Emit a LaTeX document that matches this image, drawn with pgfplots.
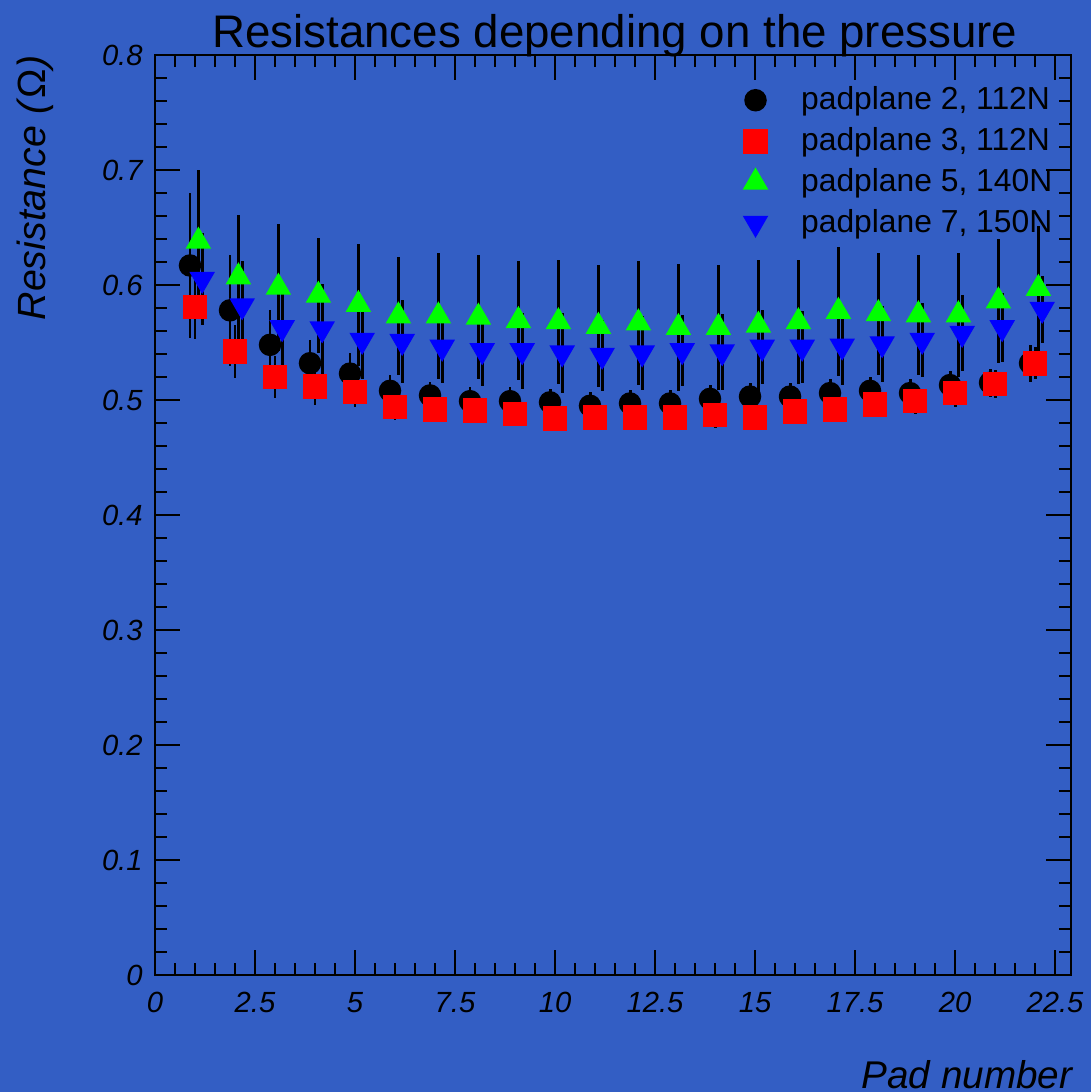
\documentclass[border=0pt]{standalone}
\usepackage{fontspec}
\setmainfont{Liberation Sans}
\usepackage{pgfplots}
\pgfplotsset{compat=1.18}
\usepackage{pgfplotstable}
\definecolor{rootbg}{RGB}{51,94,196}

% columns: pad position, resistance, error
\pgfplotstableread{
x y ey
0.875 0.617 0.063
1.875 0.578 0.048
2.875 0.548 0.030
3.875 0.532 0.020
4.875 0.523 0.018
5.875 0.508 0.014
6.875 0.504 0.012
7.875 0.499 0.012
8.875 0.499 0.012
9.875 0.498 0.012
10.875 0.495 0.012
11.875 0.497 0.012
12.875 0.497 0.012
13.875 0.501 0.012
14.875 0.503 0.012
15.875 0.503 0.012
16.875 0.506 0.012
17.875 0.508 0.012
18.875 0.506 0.012
19.875 0.513 0.012
20.875 0.515 0.012
21.875 0.532 0.016
}\padtwo
\pgfplotstableread{
x y ey
1 0.581 0.028
2 0.542 0.023
3 0.520 0.018
4 0.512 0.016
5 0.507 0.013
6 0.494 0.011
7 0.492 0.011
8 0.491 0.011
9 0.488 0.011
10 0.484 0.011
11 0.485 0.011
12 0.485 0.011
13 0.485 0.011
14 0.487 0.011
15 0.485 0.011
16 0.490 0.011
17 0.492 0.011
18 0.496 0.011
19 0.499 0.011
20 0.506 0.012
21 0.514 0.012
22 0.532 0.014
}\padthree
\pgfplotstableread{
x y ey
1.085 0.638 0.062
2.085 0.607 0.054
3.085 0.598 0.055
4.085 0.591 0.050
5.085 0.583 0.053
6.085 0.573 0.051
7.085 0.573 0.055
8.085 0.572 0.054
9.085 0.569 0.052
10.085 0.568 0.054
11.085 0.564 0.053
12.085 0.567 0.054
13.085 0.563 0.055
14.085 0.563 0.054
15.085 0.565 0.057
16.085 0.568 0.054
17.085 0.577 0.056
18.085 0.575 0.053
19.085 0.574 0.052
20.085 0.574 0.054
21.085 0.586 0.054
22.085 0.597 0.054
}\padfive
\pgfplotstableread{
x y ey
1.18 0.605 0.040
2.18 0.582 0.039
3.18 0.563 0.037
4.18 0.562 0.039
5.18 0.552 0.034
6.18 0.551 0.036
7.18 0.546 0.031
8.18 0.543 0.031
9.18 0.543 0.033
10.18 0.541 0.035
11.18 0.539 0.031
12.18 0.541 0.032
13.18 0.543 0.031
14.18 0.542 0.033
15.18 0.546 0.032
16.18 0.546 0.031
17.18 0.547 0.034
18.18 0.549 0.033
19.18 0.552 0.032
20.18 0.558 0.033
21.18 0.563 0.030
22.18 0.579 0.029
}\padseven

\begin{document}
\begin{tikzpicture}
\fill[rootbg] (-1.55,-1.17) rectangle (9.36,9.75);
\begin{axis}[
  scale only axis, width=9.16cm, height=9.2cm,
  xmin=0, xmax=22.9, ymin=0, ymax=0.8,
  xtick={0,2.5,5,7.5,10,12.5,15,17.5,20,22.5},
  xticklabels={0,2.5,5,7.5,10,12.5,15,17.5,20,22.5},
  ytick={0,0.1,0.2,0.3,0.4,0.5,0.6,0.7,0.8},
  yticklabels={0,0.1,0.2,0.3,0.4,0.5,0.6,0.7,0.8},
  minor x tick num=4, minor y tick num=4,
  tick align=inside, major tick length=0.25cm, minor tick length=0.12cm,
  tick style={black, line width=0.5pt},
  axis line style={black, line width=0.7pt},
  ticklabel style={font=\fontsize{8.3}{10}\selectfont\itshape},
  xticklabel style={yshift=-0.05cm},
  title={Resistances depending on the pressure},
  title style={font=\fontsize{13}{15}\selectfont, at={(axis description cs:0.502,1)}, anchor=base, yshift=-0.131cm},
  xlabel={Pad number},
  xlabel style={font=\fontsize{11}{13}\selectfont\itshape, inner sep=0pt, at={(axis description cs:1.002,-0.123)}, anchor=base east},
  ylabel={Resistance (\textup{Ω})},
  ylabel style={font=\fontsize{11.2}{13}\selectfont\itshape, inner sep=0pt, at={(axis description cs:-0.120,1)}, anchor=base east},
  legend style={draw=none, fill=none, inner sep=0pt, at={(0.988,0.967)}, anchor=north east,
    font=\fontsize{9.05}{11}\selectfont, nodes={inner ysep=0pt}, row sep=3.6pt,
    /tikz/every odd column/.append style={column sep=0.27cm}},
  legend cell align=left,
  error bars/error bar style={black, line width=0.85pt},
]
\addplot[only marks, mark=*, mark size=3.0pt, black,
  error bars/.cd, y dir=both, y explicit, error mark=none]
  table[x=x, y=y, y error=ey] {\padtwo};
\addlegendentry{padplane 2, 112N}
\addplot[only marks, mark=square*, mark size=3.3pt, red, mark options={fill=red, draw=red},
  error bars/.cd, y dir=both, y explicit, error mark=none]
  table[x=x, y=y, y error=ey] {\padthree};
\addlegendentry{padplane 3, 112N}
\addplot[only marks, mark=triangle*, mark size=3.8pt, green, mark options={fill=green, draw=green},
  error bars/.cd, y dir=both, y explicit, error mark=none]
  table[x=x, y=y, y error=ey] {\padfive};
\addlegendentry{padplane 5, 140N}
\addplot[only marks, mark=triangle*, mark size=3.8pt, blue, mark options={fill=blue, draw=blue, rotate=180},
  error bars/.cd, y dir=both, y explicit, error mark=none]
  table[x=x, y=y, y error=ey] {\padseven};
\addlegendentry{padplane 7, 150N}
\end{axis}
\pgfresetboundingbox
\path (-1.55,-1.17) rectangle (9.36,9.75);
\end{tikzpicture}
\end{document}
